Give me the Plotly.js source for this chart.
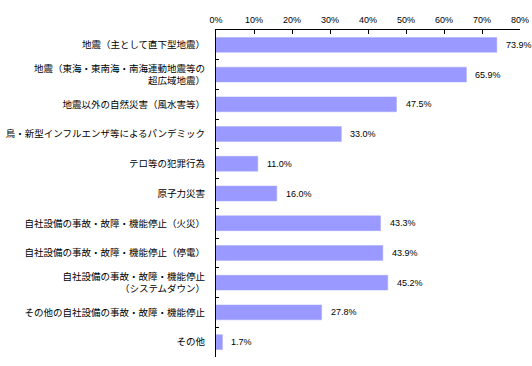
<!DOCTYPE html>
<html><head><meta charset="utf-8">
<script src="https://cdn.plot.ly/plotly-3.0.1.min.js"></script>
<style>html,body{margin:0;padding:0;background:#fff;}#chart{width:532px;height:366px;}</style>
</head><body><div id="chart"></div>
<script>
const categories = [
  "地震（主として直下型地震）",
  "地震（東海・東南海・南海連動地震等の<br>超広域地震）",
  "地震以外の自然災害（風水害等）",
  "鳥・新型インフルエンザ等によるパンデミック",
  "テロ等の犯罪行為",
  "原子力災害",
  "自社設備の事故・故障・機能停止（火災）",
  "自社設備の事故・故障・機能停止（停電）",
  "自社設備の事故・故障・機能停止<br>（システムダウン）",
  "その他の自社設備の事故・故障・機能停止",
  "その他"
];
const values = [73.9, 65.9, 47.5, 33.0, 11.0, 16.0, 43.3, 43.9, 45.2, 27.8, 1.7];
const xTickVals = [0, 10, 20, 30, 40, 50, 60, 70, 80];

const trace = {
  type: 'bar', orientation: 'h',
  x: values, y: categories,
  width: 0.5,
  marker: {color: '#9999FF', line: {color: '#A9A9FF', width: 0.5}},
  hoverinfo: 'skip'
};
const annotations = values.map((v, i) => ({
  x: v, y: categories[i], xref: 'x', yref: 'y',
  text: v.toFixed(1) + '%', showarrow: false,
  xanchor: 'left', xshift: 7,
  font: {family: 'Liberation Sans, Arial, sans-serif', size: 9, color: '#000'}
}));
const layout = {
  width: 532, height: 366,
  margin: {l: 216, r: 12, t: 30, b: 9},
  paper_bgcolor: '#fff', plot_bgcolor: '#fff',
  showlegend: false,
  xaxis: {
    side: 'top', range: [0, 80], tickvals: xTickVals,
    ticktext: xTickVals.map(v => v + '%'),
    showgrid: false, zeroline: false,
    showline: true, linecolor: '#000', linewidth: 1,
    ticks: 'inside', ticklen: 4, tickcolor: '#000', tickwidth: 1,
    ticklabelstandoff: 2,
    tickfont: {family: 'Liberation Sans, Arial, sans-serif', size: 9, color: '#000'},
    fixedrange: true
  },
  yaxis: {
    type: 'category', autorange: 'reversed',
    showgrid: false, zeroline: false,
    showline: true, linecolor: '#000', linewidth: 1,
    ticks: 'inside', tickson: 'boundaries', ticklen: 3, tickcolor: '#000',
    ticklabelstandoff: 8,
    tickfont: {family: 'Noto Sans CJK JP, sans-serif', size: 9.5, color: '#000'},
    fixedrange: true
  },
  annotations: annotations
};
Plotly.newPlot('chart', [trace], layout, {displayModeBar: false, staticPlot: true});
</script></body></html>
